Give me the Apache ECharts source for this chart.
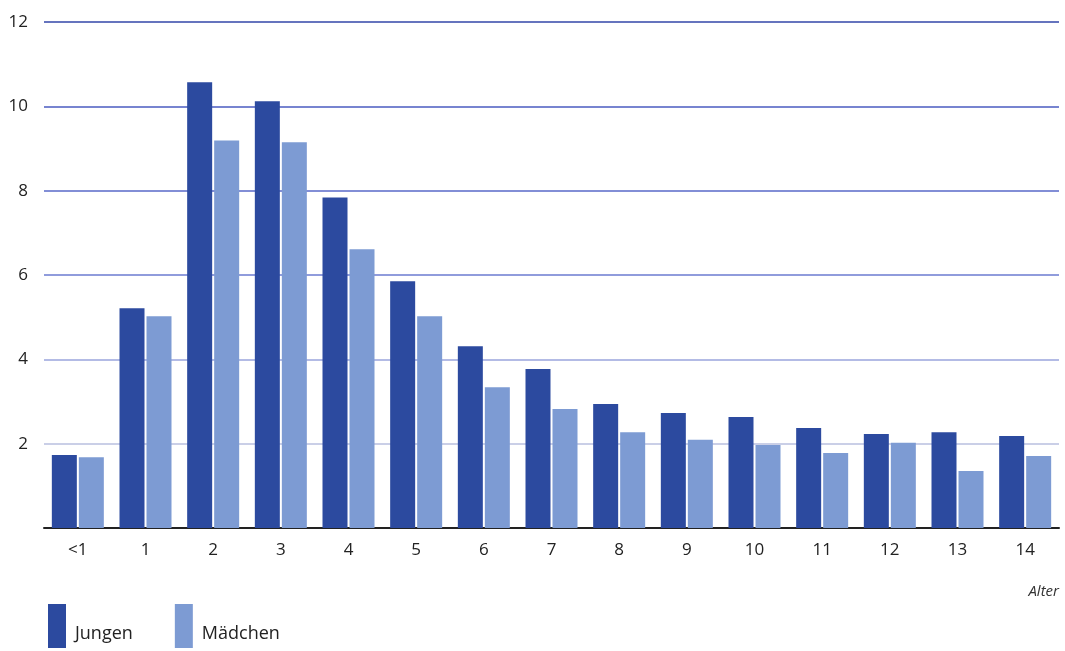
<!DOCTYPE html>
<html>
<head>
<meta charset="utf-8">
<script src="https://cdn.jsdelivr.net/npm/echarts@6/dist/echarts.min.js"></script>
<style>
html,body{margin:0;padding:0;background:#fff;}
#chart{width:1065px;height:651px;}
</style>
</head>
<body>
<div id="chart"></div>
<script>
const categories = ['<1','1','2','3','4','5','6','7','8','9','10','11','12','13','14'];
const jungen = [1.73, 5.21, 10.57, 10.12, 7.84, 5.85, 4.31, 3.77, 2.94, 2.73, 2.63, 2.37, 2.23, 2.27, 2.18];
const maedchen = [1.68, 5.02, 9.19, 9.15, 6.61, 5.02, 3.34, 2.82, 2.27, 2.09, 1.97, 1.78, 2.02, 1.35, 1.71];
const seriesNames = ['Jungen', 'Mädchen'];
const axisTitle = 'Alter';

const FONT = '"Open Sans", "DejaVu Sans", sans-serif';
const chart = echarts.init(document.getElementById('chart'));
chart.setOption({
  animation: false,
  backgroundColor: '#ffffff',
  grid: { left: 44, right: 6, top: 22, bottom: 123 },
  legend: {
    left: 43, top: 599,
    itemWidth: 18, itemHeight: 44, itemGap: 42,
    icon: 'rect',
    formatter: name => '{s|}\n{t|' + name + '}',
    textStyle: {
      fontFamily: FONT, fontSize: 18, color: '#222',
      rich: {
        s: { height: 16, fontSize: 18, fontFamily: FONT, padding: [0, 0, 0, 4] },
        t: { fontSize: 18, fontFamily: FONT, color: '#222', lineHeight: 24, padding: [0, 0, 0, 4] }
      }
    },
    data: seriesNames
  },
  xAxis: {
    type: 'category',
    data: categories,
    name: axisTitle,
    nameLocation: 'end',
    nameGap: 0,
    nameTextStyle: { fontFamily: FONT, fontStyle: 'italic', fontSize: 15, color: '#333',
      align: 'right', verticalAlign: 'top', padding: [56, 0, 0, 0] },
    axisLine: { lineStyle: { color: '#222', width: 2 } },
    axisTick: { show: false },
    axisLabel: { fontFamily: FONT, fontSize: 17, color: '#222', margin: 14 }
  },
  yAxis: {
    type: 'value',
    min: 0, max: 12, interval: 2,
    axisLine: { show: false },
    axisTick: { show: false },
    axisLabel: {
      fontFamily: FONT, fontSize: 17, color: '#222', margin: 16,
      formatter: v => v === 0 ? '' : String(v)
    },
    splitLine: { lineStyle: {
      color: ['#222222', '#b9bfdf', '#9aa5dc', '#6b7bd0', '#5868c8', '#4a5bc0', '#3246a8'],
      width: 1.5 } }
  },
  series: [
    { name: seriesNames[0], type: 'bar', data: jungen, barWidth: 25, barGap: '8%',
      itemStyle: { color: '#2c4a9f' } },
    { name: seriesNames[1], type: 'bar', data: maedchen, barWidth: 25,
      itemStyle: { color: '#7d9bd3' } }
  ]
});
</script>
</body>
</html>
